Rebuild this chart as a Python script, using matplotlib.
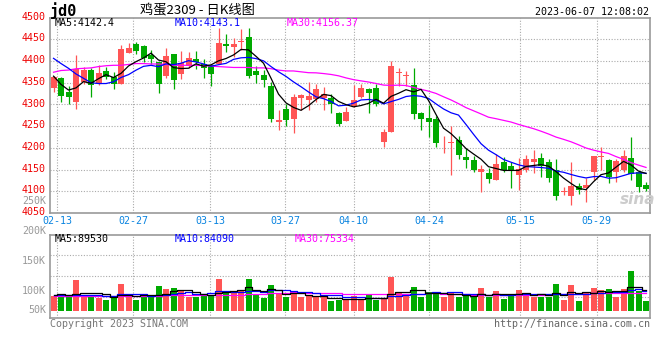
import matplotlib
matplotlib.use('Agg')
import matplotlib.pyplot as plt
from matplotlib.transforms import ScaledTranslation
import numpy as np
import pandas as pd

# jd2309 daily K, 2023-02-10 .. 2023-06-07
opens = [4337, 4361, 4329, 4306, 4352, 4379, 4348, 4377, 4362, 4348,
         4419, 4439, 4435, 4414, 4398, 4365, 4416, 4370, 4389, 4404,
         4394, 4391, 4394, 4439, 4431, 4444, 4456, 4377, 4368, 4342,
         4259, 4289, 4266, 4315, 4310, 4312, 4315, 4314, 4281, 4262,
         4297, 4318, 4335, 4338, 4214, 4236, 4372, 4365, 4345, 4281,
         4268, 4266, 4210, 4210, 4217, 4180, 4172, 4144, 4143, 4125,
         4168, 4158, 4138, 4148, 4168, 4176, 4168, 4148, 4098, 4088,
         4112, 4107, 4144, 4179, 4172, 4144, 4148, 4176, 4145, 4115]
highs = [4366, 4362, 4343, 4414, 4387, 4383, 4391, 4387, 4375, 4437,
         4442, 4444, 4437, 4425, 4398, 4429, 4416, 4423, 4421, 4423,
         4405, 4392, 4476, 4463, 4452, 4473, 4475, 4389, 4379, 4352,
         4286, 4302, 4325, 4325, 4352, 4348, 4339, 4323, 4283, 4295,
         4345, 4348, 4338, 4347, 4243, 4400, 4384, 4377, 4383, 4283,
         4299, 4274, 4228, 4250, 4227, 4199, 4182, 4161, 4153, 4185,
         4178, 4168, 4177, 4184, 4195, 4187, 4174, 4174, 4109, 4167,
         4118, 4130, 4181, 4201, 4174, 4174, 4195, 4226, 4145, 4122]
lows = [4329, 4305, 4300, 4289, 4348, 4318, 4345, 4358, 4335, 4347,
        4419, 4417, 4397, 4394, 4327, 4361, 4335, 4358, 4383, 4381,
        4360, 4343, 4392, 4421, 4410, 4425, 4360, 4350, 4341, 4260,
        4241, 4250, 4235, 4287, 4287, 4305, 4287, 4281, 4251, 4262,
        4295, 4315, 4281, 4297, 4203, 4236, 4343, 4343, 4266, 4241,
        4226, 4203, 4189, 4138, 4174, 4154, 4144, 4099, 4120, 4125,
        4145, 4107, 4103, 4145, 4141, 4132, 4122, 4079, 4092, 4069,
        4093, 4076, 4125, 4149, 4118, 4122, 4145, 4126, 4099, 4101]
closes = [4364, 4320, 4318, 4381, 4379, 4345, 4373, 4364, 4348, 4427,
          4430, 4423, 4406, 4404, 4347, 4411, 4355, 4396, 4407, 4398,
          4384, 4370, 4442, 4434, 4439, 4447, 4365, 4368, 4355, 4266,
          4264, 4264, 4316, 4322, 4319, 4335, 4323, 4302, 4255, 4282,
          4310, 4338, 4327, 4302, 4237, 4388, 4374, 4368, 4277, 4266,
          4260, 4212, 4211, 4214, 4184, 4171, 4149, 4151, 4128, 4163,
          4149, 4149, 4151, 4174, 4174, 4159, 4131, 4089, 4099, 4112,
          4103, 4115, 4181, 4180, 4132, 4170, 4181, 4140, 4109, 4105]
volumes = [76400, 77000, 74000, 105800, 78200, 75200, 73400, 69200, 73400, 98000,
           75200, 69200, 74000, 75200, 94400, 89000, 90800, 87200, 75200, 75200,
           75800, 77600, 107000, 81200, 82400, 87200, 107000, 78200, 73400, 95600,
           81800, 74600, 85400, 74600, 75800, 75200, 75200, 67400, 69200, 69200,
           77000, 68600, 80000, 69800, 72800, 110600, 83600, 78200, 92600, 74600,
           83600, 81800, 74600, 81800, 74600, 77000, 75200, 90800, 74600, 86000,
           71000, 80000, 87200, 81800, 75200, 75200, 75200, 98000, 69200, 96200,
           67400, 83600, 90200, 87200, 89000, 75200, 89000, 121400, 84800, 67400]

# moving-average values at the left edge, where the window reaches before the shown days
ma5_head = [4365, 4346, 4333, 4338]
ma10_head = [4406, 4394, 4383, 4370, 4360, 4350, 4348, 4348, 4352]
ma30_head = [4374, 4378, 4379, 4382, 4383, 4384, 4387, 4389, 4390, 4390,
             4392, 4394, 4394, 4393, 4393, 4392, 4390, 4390, 4390, 4390,
             4389, 4388, 4387, 4386, 4385, 4385, 4385, 4384, 4384]
vma5_head = [79000, 79500, 78500, 80500]
vma10_head = [77500, 77800, 77600, 78300, 78200, 78000, 77600, 77000, 77200]
vma30_head = [75800, 75900, 75800, 76200, 76300, 76300, 76200, 76100, 76200, 76600,
              76700, 76600, 76700, 76800, 77100, 77400, 77600, 77800, 77800, 77700,
              77800, 78000, 78500, 78600, 78800, 79000, 79500, 79400, 79300]

tick_labels = ['02-13', '02-27', '03-13', '03-27', '04-10', '04-24', '05-15', '05-29']
tick_pos = [0.5, 10.65, 20.85, 30.9, 40.0, 50.1, 62.2, 72.4]

RED = '#ff5555'
GREEN = '#00aa00'
GRID = '#aaaaaa'
MONO = 'DejaVu Sans Mono'


def moving(values, n, head):
    s = pd.Series(values, dtype=float).rolling(n).mean()
    s[:len(head)] = head
    return s


def px(x, y):
    return x / 660, 1 - y / 360


o = np.array(opens)
c = np.array(closes)
x = np.arange(len(closes))
colors = [RED if cc >= oo else GREEN for oo, cc in zip(o, c)]

fig = plt.figure(figsize=(6.6, 3.6), dpi=100)
ax = fig.add_axes([50 / 660, 1 - 213 / 360, 600 / 660, 195.5 / 360])
axv = fig.add_axes([50 / 660, 1 - 318.3 / 360, 600 / 660, 83.8 / 360])

# price panel
for v in tick_pos:
    ax.axvline(v, color=GRID, ls=(0, (1, 1.5)), lw=0.8, zorder=0)
for y in range(4100, 4500, 50):
    ax.axhline(y, color=GRID, ls=(0, (1, 1.5)), lw=0.8, zorder=0)

ax.vlines(x, lows, highs, colors=colors, lw=0.9, zorder=2)
ax.bar(x, np.maximum(np.abs(c - o), 1.5), bottom=np.minimum(o, c), width=0.8,
       color=colors, linewidth=0, zorder=2)

ax.plot(x, moving(closes, 30, ma30_head), color='#ff00ff', lw=0.9, zorder=3)
ax.plot(x, moving(closes, 10, ma10_head), color='#0000ff', lw=0.9, zorder=3)
ax.plot(x, moving(closes, 5, ma5_head), color='black', lw=0.9, zorder=3)

ax.set_xlim(-0.47, 79.53)
ax.set_ylim(4050, 4500)
ax.set_yticks(range(4050, 4501, 50))
ax.set_yticklabels([str(v) for v in range(4050, 4501, 50)], color='#ee0000',
                   fontsize=7.2, family=MONO)
ax.set_xticks(tick_pos)
ax.set_xticklabels(tick_labels, color='#0a84e0', fontsize=7.2, family=MONO)
ax.tick_params(length=0, pad=3)
ax.tick_params(axis='x', pad=2.5)
lift = ScaledTranslation(0, 1.8 / 100, fig.dpi_scale_trans)
for lab in ax.get_yticklabels():
    lab.set_transform(lab.get_transform() + lift)
for sp in ax.spines.values():
    sp.set_color('#999999')
    sp.set_linewidth(1.2)

# volume panel
vlo, vhi = 36300, 187200
for v in tick_pos:
    axv.axvline(v, color=GRID, ls=(0, (1, 1.5)), lw=0.8, zorder=0)
for f in (0.25, 0.5, 0.75):
    axv.axhline(vlo + f * (vhi - vlo), color=GRID, ls=(0, (1, 1.5)), lw=0.8, zorder=0)

vol = np.array(volumes)
axv.bar(x, vol - 50000, bottom=50000, width=0.8, color=colors, linewidth=0, zorder=2)
axv.step(x, moving(volumes, 30, vma30_head), where='mid', color='#ff00ff', lw=0.9, zorder=3)
axv.step(x, moving(volumes, 10, vma10_head), where='mid', color='#0000ff', lw=0.9, zorder=3)
axv.step(x, moving(volumes, 5, vma5_head), where='mid', color='black', lw=0.9, zorder=3)

axv.set_xlim(-0.47, 79.53)
axv.set_ylim(vlo, vhi)
axv.set_xticks([])
axv.set_yticks([])
for sp in axv.spines.values():
    sp.set_color('#999999')
    sp.set_linewidth(1.2)

# texts
fig.text(*px(50, 11), 'jd0', fontsize=11, weight='bold', family=MONO, va='center')
fig.text(*px(140, 11), '鸡蛋2309 - 日K线图', fontsize=9.5,
         family=['Noto Sans CJK SC', 'DejaVu Sans'], va='center')
fig.text(*px(649, 12), '2023-06-07 12:08:02', fontsize=7.2, family=MONO,
         ha='right', va='center')

fig.text(*px(55, 23), 'MA5:4142.4', fontsize=7.2, family=MONO, va='center', color='black')
fig.text(*px(175, 23), 'MA10:4143.1', fontsize=7.2, family=MONO, va='center', color='#0000ff')
fig.text(*px(287, 23), 'MA30:4156.37', fontsize=7.2, family=MONO, va='center', color='#ff00ff')

fig.text(*px(55, 238.5), 'MA5:89530', fontsize=7.2, family=MONO, va='center', color='black')
fig.text(*px(175, 238.5), 'MA10:84090', fontsize=7.2, family=MONO, va='center', color='#0000ff')
fig.text(*px(295, 238.5), 'MA30:75334', fontsize=7.2, family=MONO, va='center', color='#ff00ff')

for lab, yy in [('250K', 200.5), ('200K', 231), ('150K', 261), ('100K', 291), ('50K', 310)]:
    fig.text(*px(46, yy), lab, fontsize=7.2, family=MONO, color='#999999',
             ha='right', va='center')

fig.text(*px(50, 324), 'Copyright 2023 SINA.COM', fontsize=7.2, family=MONO,
         color='#777777', va='center')
fig.text(*px(650, 324), 'http://finance.sina.com.cn', fontsize=7.2, family=MONO,
         color='#666666', ha='right', va='center')
fig.text(*px(620, 200), 'sina', fontsize=11, weight='bold', style='italic',
         color='#cccccc', va='center')

fig.savefig('out.png', dpi=100)
